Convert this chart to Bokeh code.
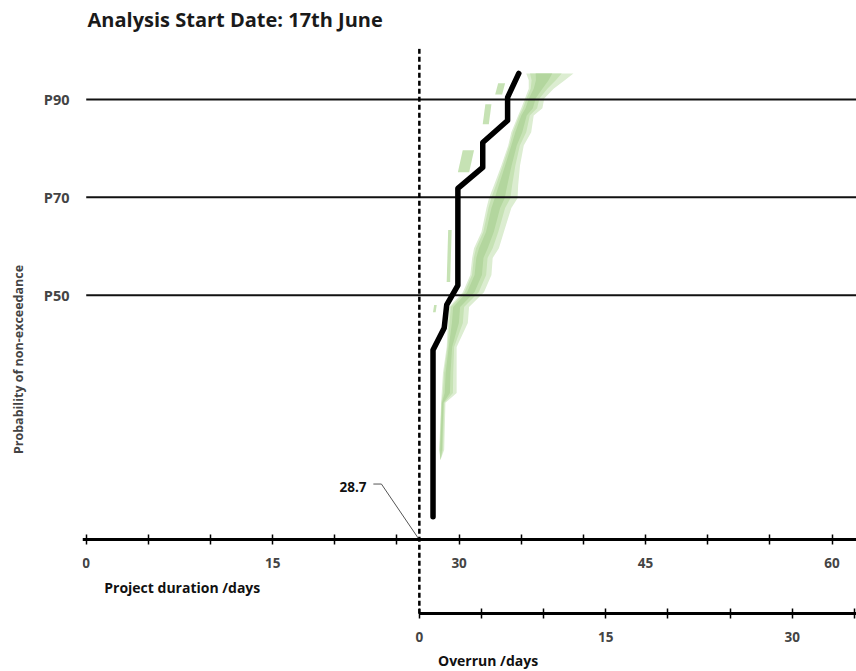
from bokeh.plotting import figure
from bokeh.models import Range1d, LinearAxis, FixedTicker, Title
from bokeh.core.properties import value
from bokeh.embed import file_html
from bokeh.resources import INLINE

title_text = "Analysis Start Date: 17th June"
x_label = "Project duration /days"
over_label = "Overrun /days"
y_label = "Probability of non-exceedance"

# origin of overrun axis (as drawn) and its annotation text
baseline_duration = 26.8
baseline_label = "28.7"

# deterministic / reference S-curve (days, probability %)
curve_days = [27.9, 27.9, 28.8, 29.0, 29.9, 29.9, 31.9, 31.9, 33.9, 33.9, 34.8]
curve_prob = [4.7, 38.8, 43.3, 48.0, 52.0, 71.8, 76.1, 81.2, 85.7, 90.4, 95.3]

# shaded envelope of scenario curves
band_prob = [95.3, 93.9, 92.2, 90.2, 88.2, 86.7, 83.3, 80.6, 76.5, 72.4, 69.8, 67.8,
             62.9, 59.6, 57.6, 54.1, 50.6, 47.6, 44.3, 39.4, 34.1, 30.0, 28.0, 18.4, 16.3]
band_lo = [35.4, 35.6, 35.6, 35.3, 35.0, 34.75, 34.2, 33.95, 33.4, 32.8, 32.4, 32.2,
           31.8, 31.2, 31.05, 30.9, 30.3, 29.2, 29.1, 29.0, 28.7, 28.6, 28.55, 28.4, 28.5]
band_hi = [39.2, 38.5, 37.6, 36.85, 36.7, 36.0, 35.8, 35.2, 34.9, 34.75, 34.7, 34.2,
           33.6, 33.2, 32.7, 32.6, 32.0, 30.8, 30.7, 29.8, 29.8, 29.8, 28.9, 28.8, 28.5]

# small shaded fragments left of the curve
patch_p_lo = [91.0, 84.9, 75.1, 52.7, 46.5]
patch_p_hi = [93.3, 89.0, 79.6, 63.3, 48.0]
patch_x_lo = [32.9, 31.9, 29.9, 29.0, 27.9]
patch_x_hi = [33.7, 32.6, 31.2, 29.4, 28.2]

ref_levels = [50, 70, 90]
ref_names = ["P50", "P70", "P90"]

dur_ticks = [0, 15, 30, 45, 60]
dur_minor = [5, 10, 20, 25, 35, 40, 50, 55]
over_ticks = [0, 15, 30]
over_minor = [5, 10, 20, 25, 35]

x_start, x_end = -0.3, 61.97
y_start, y_end = -26.7, 100.4
over_axis_y = -15.1

FONT = "Open Sans"

p = figure(width=856, height=670, output_backend="svg", toolbar_location=None,
           title_location=None,
           x_range=Range1d(x_start, x_end), y_range=Range1d(y_start, y_end),
           x_axis_location=None, y_axis_location="left",
           min_border_left=82, min_border_right=0, min_border_top=47, min_border_bottom=0)
p.outline_line_color = None
p.xgrid.visible = False
p.ygrid.visible = False
p.background_fill_color = "white"

# spacer between title and plot frame, then the title itself (outer)
spacer = Title(text=" ", text_font_size="8px", standoff=2)
p.add_layout(spacer, "above")
ttl = Title(text=title_text, text_font=FONT, text_font_size="20px", text_font_style="bold",
            text_color="#1a1a1a", align="left", offset=5, standoff=6)
p.add_layout(ttl, "above")

# y axis
ya = p.yaxis[0]
ya.ticker = FixedTicker(ticks=ref_levels)
ya.major_label_overrides = {lv: nm for lv, nm in zip(ref_levels, ref_names)}
ya.axis_line_color = None
ya.major_tick_line_color = None
ya.minor_tick_line_color = None
ya.major_label_text_font = FONT
ya.major_label_text_font_style = "bold"
ya.major_label_text_font_size = "14.5px"
ya.major_label_standoff = 7
ya.axis_label = y_label
ya.axis_label_text_font = FONT
ya.axis_label_text_font_style = "bold"
ya.axis_label_text_font_size = "12.5px"
ya.axis_label_standoff = 14

# shaded envelope (layered to mimic gradient)
def layer(f_lo, f_hi):
    lo = [a + f_lo * (b - a) for a, b in zip(band_lo, band_hi)]
    hi = [b - f_hi * (b - a) for a, b in zip(band_lo, band_hi)]
    return lo + hi[::-1], band_prob + band_prob[::-1]

for (flo, fhi), col in [((0.0, 0.0), "#dcedd1"), ((0.08, 0.25), "#c6e2b4"), ((0.2, 0.45), "#b3d69e")]:
    xs, ys = layer(flo, fhi)
    p.patch(xs, ys, fill_color=col, line_color=None)

pxs, pys = [], []
for a, b, x0, x1 in zip(patch_p_lo, patch_p_hi, patch_x_lo, patch_x_hi):
    s = 0.3 * (x1 - x0)
    pxs.append([x0, x1 - s, x1, x0 + s])
    pys.append([a, a, b, b])
p.patches(pxs, pys, fill_color="#c6e2b4", line_color=None)

# reference probability lines
p.segment(x0=[0] * len(ref_levels), x1=[x_end] * len(ref_levels), y0=ref_levels, y1=ref_levels,
          line_color="#111111", line_width=2)

# dashed overrun origin
p.segment(x0=[baseline_duration], x1=[baseline_duration], y0=[over_axis_y], y1=[y_end],
          line_color="black", line_width=2.5, line_dash="5 3")

# S-curve
p.line(curve_days, curve_prob, line_color="black", line_width=5.5, line_join="round", line_cap="round")

# annotation of origin
lab_x, lab_y = 22.55, 10.8
p.line([lab_x + 0.55, lab_x + 1.2, baseline_duration], [lab_y + 0.6, lab_y + 0.6, 0],
       line_color="#555555", line_width=1)
p.text(x=[lab_x], y=[lab_y], text=[baseline_label], text_align="right", text_baseline="middle",
       text_font=value(FONT), text_font_style="bold", text_font_size="13.5px", text_color="#111111")

# axis titles (drawn inside the frame, beside the fixed axes)
p.text(x=[1.45], y=[-9.8], text=[x_label], text_align="left", text_baseline="middle",
       text_font=value(FONT), text_font_style="bold", text_font_size="14px", text_color="#111111")
p.text(x=[baseline_duration + 1.5], y=[-24.6], text=[over_label], text_align="left", text_baseline="middle",
       text_font=value(FONT), text_font_style="bold", text_font_size="14px", text_color="#111111")

def style_axis(ax):
    ax.axis_line_width = 3
    ax.axis_line_color = "black"
    ax.major_tick_in = 5
    ax.major_tick_out = 5
    ax.minor_tick_in = 5
    ax.minor_tick_out = 5
    ax.major_tick_line_width = 1.5
    ax.minor_tick_line_width = 1.5
    ax.major_tick_line_color = "black"
    ax.minor_tick_line_color = "black"
    ax.major_label_text_font = FONT
    ax.major_label_text_font_style = "bold"
    ax.major_label_text_font_size = "13.5px"
    ax.major_label_standoff = 13

ax_dur = LinearAxis(fixed_location=0, ticker=FixedTicker(ticks=dur_ticks, minor_ticks=dur_minor))
style_axis(ax_dur)
p.add_layout(ax_dur, "below")

p.extra_x_ranges = {"over": Range1d(x_start - baseline_duration, x_end - baseline_duration)}
ax_over = LinearAxis(x_range_name="over", fixed_location=over_axis_y,
                     bounds=(0, x_end - baseline_duration),
                     ticker=FixedTicker(ticks=over_ticks, minor_ticks=over_minor))
style_axis(ax_over)
p.add_layout(ax_over, "below")

open("out.html", "w").write(file_html(p, INLINE))
